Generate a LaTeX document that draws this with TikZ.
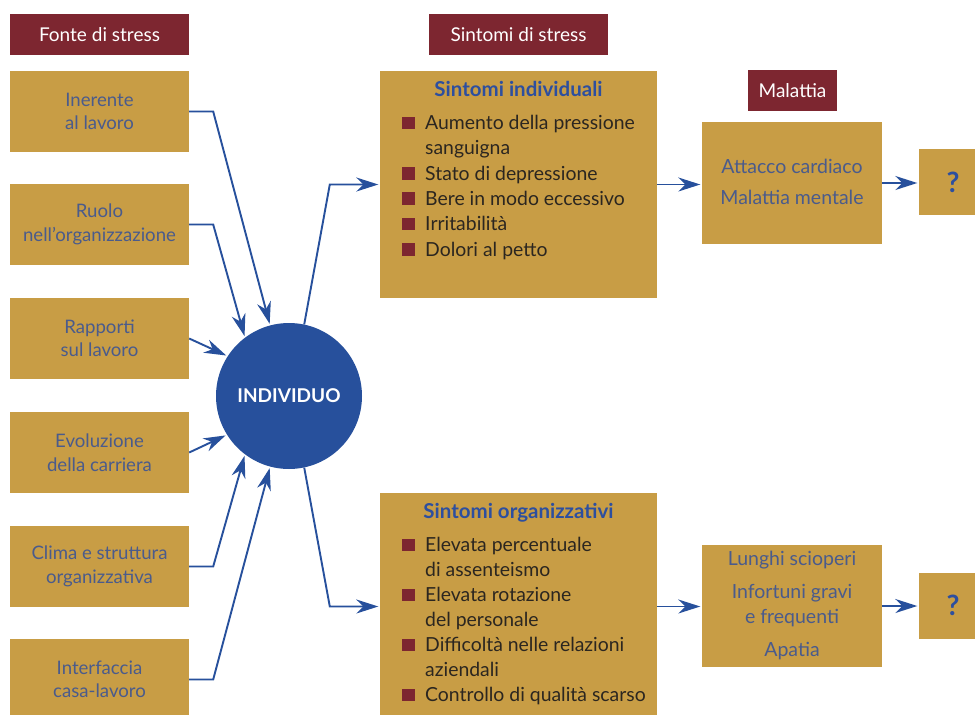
\documentclass[tikz,border=0pt]{standalone}
\usepackage{fontspec}
\setmainfont{Lato}
\usetikzlibrary{arrows.meta}
\definecolor{gold}{HTML}{C89D45}
\definecolor{dred}{HTML}{7D2630}
\definecolor{cblue}{HTML}{27509C}
\definecolor{tblue}{HTML}{4A5B8C}
\definecolor{hblue}{HTML}{2D4F9F}
\definecolor{itxt}{HTML}{2B2620}
\newcommand\bul{\makebox[23pt][l]{\textcolor{dred}{\rule[0.5pt]{12.5pt}{12.5pt}}}}
\newcommand\ind{\hspace*{23pt}}
\tikzset{
  hdr/.style={fill=dred, text=white, inner sep=0pt, minimum width=179pt, minimum height=41pt, font=\fontsize{19}{22}\selectfont},
  srcbox/.style={fill=gold, inner sep=0pt, minimum width=179pt, minimum height=81pt, text=tblue, align=center, font=\fontsize{18.6}{23.5}\selectfont},
  bigbox/.style={fill=gold, inner sep=0pt, minimum width=277pt, minimum height=227pt},
  resbox/.style={fill=gold, inner sep=0pt, minimum width=180pt, minimum height=122pt},
  qbox/.style={fill=gold, inner sep=0pt, minimum width=68pt, minimum height=66pt, text=hblue, font=\bfseries\fontsize{28}{30}\selectfont},
  boxtitle/.style={anchor=base, inner sep=0pt, text=hblue, font=\bfseries\fontsize{20.5}{24}\selectfont},
  itemlist/.style={anchor=base west, inner sep=0pt, align=left, text=itxt, font=\fontsize{19.4}{25.3}\selectfont},
  restext/.style={anchor=base, inner sep=0pt, align=center, text=tblue, font=\fontsize{19.5}{25}\selectfont},
  conn/.style={draw=cblue, line width=1.9pt, shorten >=1.5pt, -{Stealth[length=22pt,width=14pt,inset=7pt]}},
}
\begin{document}
\begin{tikzpicture}[x=1pt,y=-1pt]
\useasboundingbox (0,0) rectangle (975,715);
\clip (0,0) rectangle (975,715);
\fill[white] (0,0) rectangle (975,715);

% headers
\node[hdr] (h1) at (99.5,34.5) {Fonte di stress};
\node[hdr] (h2) at (518.5,34.5) {Sintomi di stress};
\node[hdr, minimum width=89pt] (h3) at (792.5,90.5) {Malattia};

% source boxes
\node[srcbox] (b1) at (99.5,111.5) {Inerente\\al lavoro};
\node[srcbox] (b2) at (99.5,224.5) {Ruolo\\nell’organizzazione};
\node[srcbox] (b3) at (99.5,338.5) {Rapporti\\sul lavoro};
\node[srcbox] (b4) at (99.5,452.5) {Evoluzione\\della carriera};
\node[srcbox] (b5) at (99.5,566.5) {Clima e struttura\\organizzativa};
\node[srcbox] (b6) at (99.5,679.5) {Interfaccia\\casa-lavoro};

% individual
\node[circle, fill=cblue, minimum size=146pt, inner sep=0pt, text=white, font=\bfseries\fontsize{19}{21}\selectfont] (indiv) at (289,396) {INDIVIDUO};

% symptom boxes
\node[bigbox] (si) at (518.5,184.5) {};
\node[boxtitle] (sit) at (518.5,96.7) {Sintomi individuali};
\node[itemlist] (sil) at (402,256) {\bul Aumento della pressione\\\ind sanguigna\\\bul Stato di depressione\\\bul Bere in modo eccessivo\\\bul Irritabilità\\\bul Dolori al petto};

\node[bigbox] (so) at (518.5,606.5) {};
\node[boxtitle] (sot) at (518.5,518) {Sintomi organizzativi};
\node[itemlist, font=\fontsize{19.4}{25}\selectfont] (sol) at (402,701.7) {\bul Elevata percentuale\\\ind di assenteismo\\\bul Elevata rotazione\\\ind del personale\\\bul Difficoltà nelle relazioni\\\ind aziendali\\\bul Controllo di qualità scarso};

% result boxes
\node[resbox] (mt) at (792,183) {};
\node[restext, font=\fontsize{19.5}{31}\selectfont] (mtt) at (792,204) {Attacco cardiaco\\Malattia mentale};
\node[qbox] (q1) at (953,182) {?};

\node[resbox] (mb) at (792,606) {};
\node[restext] (mbt) at (792,656.5) {Lunghi scioperi\\[8pt]Infortuni gravi\\e frequenti\\[8pt]Apatia};
\node[qbox] (q2) at (953,605.5) {?};

% connectors into individual
\draw[conn] (b1.east) -- ++(24,0) -- (indiv.105);
\draw[conn] (b2.east) -- ++(24,0) -- (indiv.127);
\draw[conn] (b3.east) -- (indiv.147);
\draw[conn] (b4.east) -- (indiv.212);
\draw[conn] (b5.east) -- ++(24,0) -- (indiv.233);
\draw[conn] (b6.east) -- ++(24,0) -- (indiv.255);

% connectors out
\draw[conn] (indiv.78) -- ([xshift=-50pt]si.west) -- (si.west);
\draw[conn] (indiv.282) -- ([xshift=-50pt]so.west) -- (so.west);
\draw[conn] (si.east) -- (si.east -| mt.west);
\draw[conn] (so.east) -- (so.east -| mb.west);
\draw[conn] (mt.east) -- (mt.east -| q1.west);
\draw[conn] (mb.east) -- (mb.east -| q2.west);
\end{tikzpicture}
\end{document}
